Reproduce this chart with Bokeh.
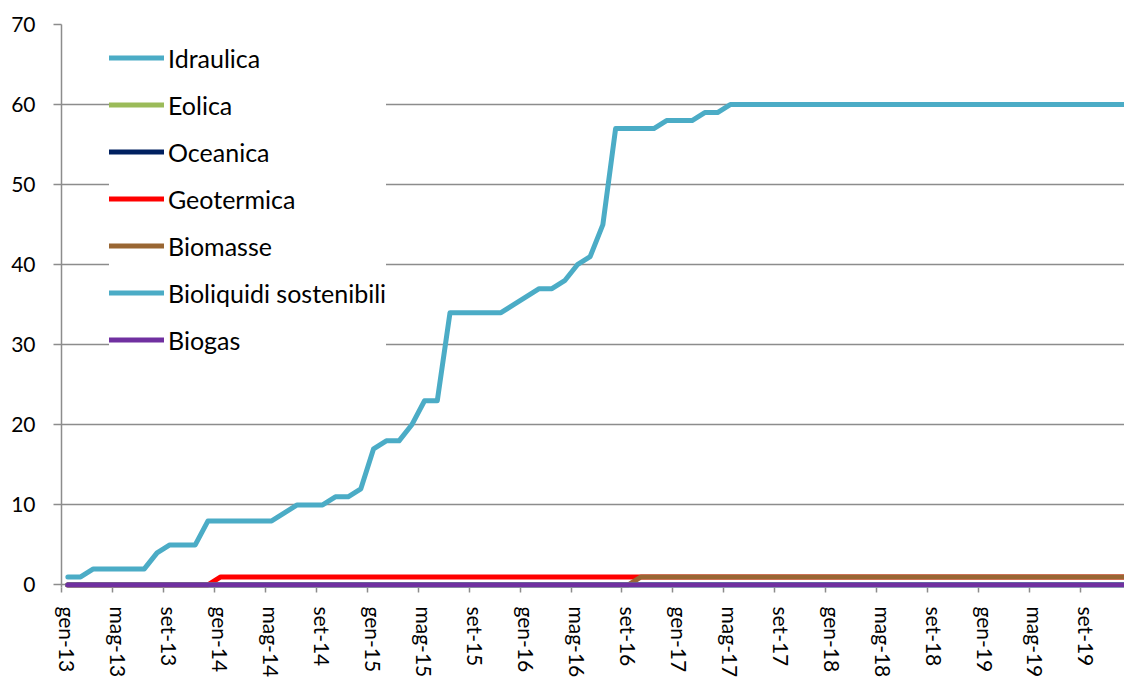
from bokeh.plotting import figure
from bokeh.models import (Range1d, FixedTicker, CustomJSTickFormatter, Legend, LegendItem,
                          ColumnDataSource)
from bokeh.embed import file_html
from bokeh.resources import INLINE

# ---- data (monthly, gen-13 .. dic-19) ----
mesi = ["gen", "feb", "mar", "apr", "mag", "giu", "lug", "ago", "set", "ott", "nov", "dic"]
anni = ["13", "14", "15", "16", "17", "18", "19"]
month_labels = [f"{m}-{a}" for a in anni for m in mesi]

idraulica = [
    1, 1, 2, 2, 2, 2, 2, 4, 5, 5, 5, 8,
    8, 8, 8, 8, 8, 9, 10, 10, 10, 11, 11, 12,
    17, 18, 18, 20, 23, 23, 34, 34, 34, 34, 34, 35,
    36, 37, 37, 38, 40, 41, 45, 57, 57, 57, 57, 58,
    58, 58, 59, 59, 60, 60, 60, 60, 60, 60, 60, 60,
    60, 60, 60, 60, 60, 60, 60, 60, 60, 60, 60, 60,
    60, 60, 60, 60, 60, 60, 60, 60, 60, 60, 60, 60,
]
eolica = [
    0, 0, 0, 0, 0, 0, 0, 0, 0, 0, 0, 0,
    0, 0, 0, 0, 0, 0, 0, 0, 0, 0, 0, 0,
    0, 0, 0, 0, 0, 0, 0, 0, 0, 0, 0, 0,
    0, 0, 0, 0, 0, 0, 0, 0, 0, 0, 0, 0,
    0, 0, 0, 0, 0, 0, 0, 0, 0, 0, 0, 0,
    0, 0, 0, 0, 0, 0, 0, 0, 0, 0, 0, 0,
    0, 0, 0, 0, 0, 0, 0, 0, 0, 0, 0, 0,
]
oceanica = [
    0, 0, 0, 0, 0, 0, 0, 0, 0, 0, 0, 0,
    0, 0, 0, 0, 0, 0, 0, 0, 0, 0, 0, 0,
    0, 0, 0, 0, 0, 0, 0, 0, 0, 0, 0, 0,
    0, 0, 0, 0, 0, 0, 0, 0, 0, 0, 0, 0,
    0, 0, 0, 0, 0, 0, 0, 0, 0, 0, 0, 0,
    0, 0, 0, 0, 0, 0, 0, 0, 0, 0, 0, 0,
    0, 0, 0, 0, 0, 0, 0, 0, 0, 0, 0, 0,
]
geotermica = [
    0, 0, 0, 0, 0, 0, 0, 0, 0, 0, 0, 0,
    1, 1, 1, 1, 1, 1, 1, 1, 1, 1, 1, 1,
    1, 1, 1, 1, 1, 1, 1, 1, 1, 1, 1, 1,
    1, 1, 1, 1, 1, 1, 1, 1, 1, 1, 1, 1,
    1, 1, 1, 1, 1, 1, 1, 1, 1, 1, 1, 1,
    1, 1, 1, 1, 1, 1, 1, 1, 1, 1, 1, 1,
    1, 1, 1, 1, 1, 1, 1, 1, 1, 1, 1, 1,
]
biomasse = [
    0, 0, 0, 0, 0, 0, 0, 0, 0, 0, 0, 0,
    0, 0, 0, 0, 0, 0, 0, 0, 0, 0, 0, 0,
    0, 0, 0, 0, 0, 0, 0, 0, 0, 0, 0, 0,
    0, 0, 0, 0, 0, 0, 0, 0, 0, 1, 1, 1,
    1, 1, 1, 1, 1, 1, 1, 1, 1, 1, 1, 1,
    1, 1, 1, 1, 1, 1, 1, 1, 1, 1, 1, 1,
    1, 1, 1, 1, 1, 1, 1, 1, 1, 1, 1, 1,
]
bioliquidi = [
    0, 0, 0, 0, 0, 0, 0, 0, 0, 0, 0, 0,
    0, 0, 0, 0, 0, 0, 0, 0, 0, 0, 0, 0,
    0, 0, 0, 0, 0, 0, 0, 0, 0, 0, 0, 0,
    0, 0, 0, 0, 0, 0, 0, 0, 0, 0, 0, 0,
    0, 0, 0, 0, 0, 0, 0, 0, 0, 0, 0, 0,
    0, 0, 0, 0, 0, 0, 0, 0, 0, 0, 0, 0,
    0, 0, 0, 0, 0, 0, 0, 0, 0, 0, 0, 0,
]
biogas = [
    0, 0, 0, 0, 0, 0, 0, 0, 0, 0, 0, 0,
    0, 0, 0, 0, 0, 0, 0, 0, 0, 0, 0, 0,
    0, 0, 0, 0, 0, 0, 0, 0, 0, 0, 0, 0,
    0, 0, 0, 0, 0, 0, 0, 0, 0, 0, 0, 0,
    0, 0, 0, 0, 0, 0, 0, 0, 0, 0, 0, 0,
    0, 0, 0, 0, 0, 0, 0, 0, 0, 0, 0, 0,
    0, 0, 0, 0, 0, 0, 0, 0, 0, 0, 0, 0,
]

series_names = ["Idraulica", "Eolica", "Oceanica", "Geotermica", "Biomasse",
                "Bioliquidi sostenibili", "Biogas"]
series_values = [idraulica, eolica, oceanica, geotermica, biomasse, bioliquidi, biogas]
series_colors = ["#4BACC6", "#9BBB59", "#002060", "#FF0000", "#996633", "#4BACC6", "#7030A0"]

y_ticks = [0, 10, 20, 30, 40, 50, 60, 70]
label_step = 4  # a label every 4 months

# ---- figure ----
FONT = "Lato"
GRAY = "#8C8C8C"

n = len(month_labels)
xs = [i + 0.5 for i in range(n)]

p = figure(width=1124, height=681, output_backend="svg", toolbar_location=None,
           x_range=Range1d(0, 83.45), y_range=Range1d(-0.32, 70))
p.min_border_left = 61
p.min_border_right = 0
p.min_border_top = 24
p.min_border_bottom = 94
p.outline_line_color = None
p.background_fill_color = "white"
p.border_fill_color = "white"

renderers = []
for name, vals, col in zip(series_names, series_values, series_colors):
    src = ColumnDataSource(dict(x=xs, y=vals))
    r = p.line("x", "y", source=src, line_color=col, line_width=5,
               line_cap="round", line_join="round")
    renderers.append((name, r))

# y axis
p.yaxis.ticker = FixedTicker(ticks=y_ticks, minor_ticks=[])
p.yaxis.axis_line_color = GRAY
p.yaxis.axis_line_width = 1.5
p.yaxis.major_tick_line_color = GRAY
p.yaxis.major_tick_line_width = 1.5
p.yaxis.major_tick_out = 8
p.yaxis.major_tick_in = 0
p.yaxis.minor_tick_line_color = None
p.yaxis.major_label_standoff = 18
p.yaxis.major_label_text_font = FONT
p.yaxis.major_label_text_font_size = "21px"
p.yaxis.major_label_text_color = "black"

p.ygrid.ticker = FixedTicker(ticks=y_ticks)
p.ygrid.grid_line_color = GRAY
p.ygrid.grid_line_width = 1.5
p.xgrid.grid_line_color = None

# x axis
major = [i + 0.5 for i in range(0, n, label_step)]
minor = [float(i) for i in range(0, n, label_step)]
p.xaxis.ticker = FixedTicker(ticks=major, minor_ticks=minor)
p.xaxis.formatter = CustomJSTickFormatter(
    args=dict(labels=month_labels),
    code="return labels[Math.round(tick - 0.5)];")
p.xaxis.axis_line_color = None
p.xaxis.major_tick_out = 0
p.xaxis.major_tick_in = 0
p.xaxis.minor_tick_out = 5
p.xaxis.minor_tick_in = 0
p.xaxis.minor_tick_line_color = GRAY
p.xaxis.minor_tick_line_width = 1.5
p.xaxis.major_label_orientation = "vertical"
p.xaxis.major_label_standoff = 14
p.xaxis.major_label_text_font = FONT
p.xaxis.major_label_text_font_size = "21px"
p.xaxis.major_label_text_color = "black"

legend = Legend(items=[LegendItem(label=nm, renderers=[r]) for nm, r in renderers],
                location=(48, 224), orientation="vertical",
                padding=7, margin=0, spacing=0,
                glyph_width=55, glyph_height=47, label_height=47, label_standoff=4,
                label_text_font=FONT, label_text_font_size="25px", label_text_color="black",
                background_fill_color="white", background_fill_alpha=1.0,
                border_line_color=None)
p.add_layout(legend, "center")

open("out.html", "w").write(file_html(p, INLINE))
